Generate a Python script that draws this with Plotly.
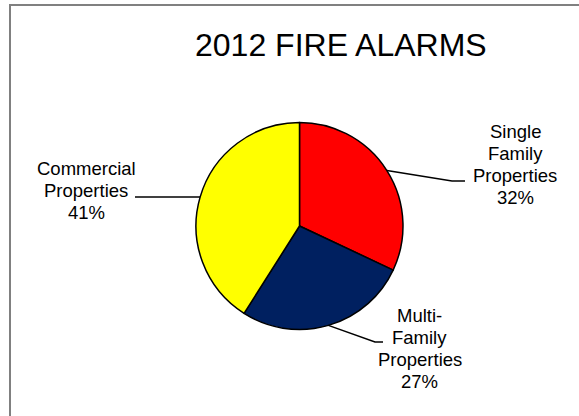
import math
import plotly.graph_objects as go

# ---- data ----
categories = ["Single Family Properties", "Multi-Family Properties", "Commercial Properties"]
label_lines = [["Single", "Family", "Properties"], ["Multi-", "Family", "Properties"], ["Commercial", "Properties"]]
values = [32, 27, 41]
colors = ["#FF0000", "#002060", "#FFFF00"]
title_text = "2012 FIRE ALARMS"

W, H = 579, 416
# pie geometry (pixels)
CX, CY, R = 299.5, 226.0, 103.5
FONT = "Liberation Sans, Arial, sans-serif"
LABEL_SIZE = 18.5
LINE_STEP = 21.7

def px(x):
    return x / W

def py(y):
    return 1 - y / H

fig = go.Figure(go.Pie(
    labels=categories,
    values=values,
    sort=False,
    direction="clockwise",
    rotation=0,
    marker=dict(colors=colors, line=dict(color="#000000", width=1.5)),
    textinfo="none",
    hoverinfo="label+percent",
    showlegend=False,
    domain=dict(x=[px(CX - R), px(CX + R)], y=[py(CY + R), py(CY - R)]),
))

# label placement (pixels): text centre, leader elbow, leader end
label_pos = [(515, 164.5), (419.5, 348.5), (86, 190.5)]
leader_bends = [[(452, 181), (465, 181)], [(375, 342), (383, 342)], [(135, 197)]]

total = sum(values)
cum = 0
shapes = []
annotations = []
for i, v in enumerate(values):
    mid = (cum + v / 2) / total
    cum += v
    ang = 2 * math.pi * mid
    sx = CX + R * math.sin(ang)
    sy = CY - R * math.cos(ang)
    pts = [(sx, sy)] + leader_bends[i]
    path = "M " + " L ".join(f"{px(x)},{py(y)}" for x, y in pts)
    shapes.append(dict(type="path", xref="paper", yref="paper", path=path,
                       line=dict(color="#000000", width=1.5)))
    pct = round(100 * v / total)
    lines = label_lines[i] + [f"{pct}%"]
    tx, ty = label_pos[i]
    n = len(lines)
    for k, line in enumerate(lines):
        ly = ty + (k - (n - 1) / 2) * LINE_STEP
        annotations.append(dict(text=line, x=px(tx), y=py(ly), xref="paper", yref="paper",
                                xanchor="center", yanchor="middle", showarrow=False,
                                font=dict(family=FONT, size=LABEL_SIZE, color="#000000")))

annotations.append(dict(text=title_text, x=px(341), y=py(45), xref="paper", yref="paper",
                        xanchor="center", yanchor="middle", showarrow=False,
                        font=dict(family=FONT, size=32, color="#000000")))

# chart-area border
shapes.append(dict(type="rect", xref="paper", yref="paper",
                   x0=px(10), y0=py(H + 10), x1=px(W + 10), y1=py(5),
                   line=dict(color="#808080", width=2), fillcolor="rgba(0,0,0,0)"))

fig.update_layout(
    width=W, height=H,
    margin=dict(l=0, r=0, t=0, b=0),
    paper_bgcolor="#FFFFFF",
    plot_bgcolor="#FFFFFF",
    shapes=shapes,
    annotations=annotations,
)

fig.write_html("out.html", config={"displayModeBar": False},
               post_script="document.body.style.margin='0';document.body.style.overflow='hidden';")
